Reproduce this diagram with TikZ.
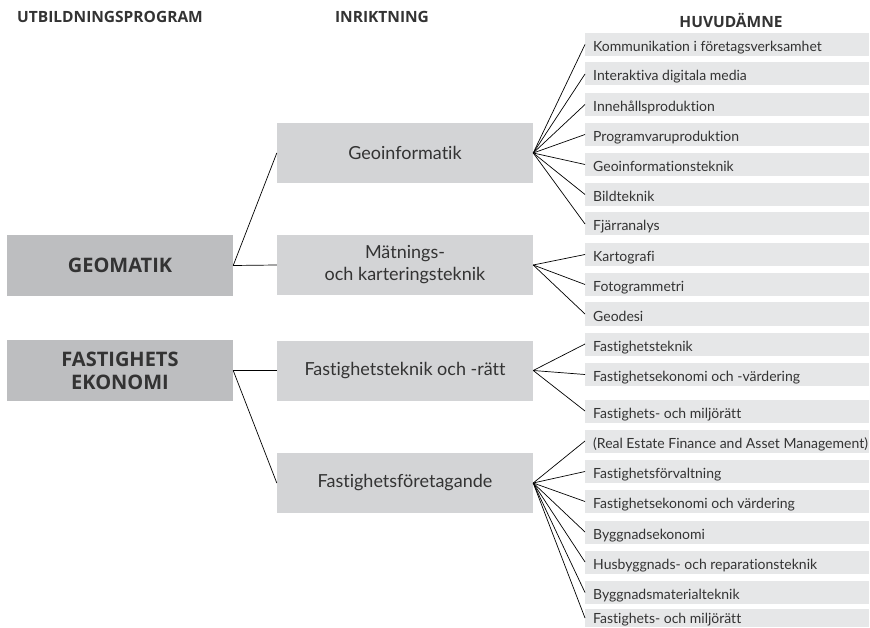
\documentclass[tikz,border=0pt]{standalone}
\usepackage{fontspec}
\setmainfont{Lato}[Ligatures=NoCommon]
\newfontfamily\headfont{Open Sans}
\definecolor{lboxc}{HTML}{BDBEC0}
\definecolor{mboxc}{HTML}{D3D4D6}
\definecolor{rboxc}{HTML}{E6E7E8}
\definecolor{txtc}{HTML}{333333}
\begin{document}
\begin{tikzpicture}[x=1pt,y=-1pt,
  head/.style={font=\headfont\bfseries\fontsize{15.5}{18}\selectfont, text=txtc, inner sep=0},
  leftbox/.style={fill=lboxc, draw=none, minimum width=226pt, minimum height=61pt, inner sep=0,
    font=\headfont\bfseries\fontsize{20}{23}\selectfont, text=txtc, align=center},
  midbox/.style={fill=mboxc, draw=none, minimum width=256pt, minimum height=60pt, inner sep=0,
    font=\fontsize{18}{22}\selectfont, text=txtc, align=center},
  rbox/.style={fill=rboxc, draw=none, anchor=west, minimum height=23pt, inner sep=0,
    text height=14pt, text depth=0pt, font=\fontsize{14}{16}\selectfont, text=txtc,
    execute at begin node={\hbox to 284pt\bgroup\hspace*{8pt}},
    execute at end node={\hfil\egroup}},
  conn/.style={draw=black, line width=0.7pt}]
\useasboundingbox (0,0) rectangle (870,628);

\node[head] (h1) at (110,17) {UTBILDNINGSPROGRAM};
\node[head] (h2) at (382,17) {INRIKTNING};
\node[head] (h3) at (731,20) {HUVUDÄMNE};

\node[leftbox] (l1) at (120,265.5) {GEOMATIK};
\node[leftbox] (l2) at (120,370.5) {FASTIGHETS\\EKONOMI};

\node[midbox] (m1) at (405,153) {Geoinformatik};
\node[midbox] (m2) at (405,265) {Mätnings-\\och karteringsteknik};
\node[midbox] (m3) at (405,370.5) {Fastighetsteknik och -rätt};
\node[midbox] (m4) at (405,483) {Fastighetsföretagande};

\node[rbox] (r1) at (585,44.5) {Kommunikation i företagsverksamhet};
\node[rbox] (r2) at (585,74) {Interaktiva digitala media};
\node[rbox] (r3) at (585,104.5) {Innehållsproduktion};
\node[rbox] (r4) at (585,134.5) {Programvaruproduktion};
\node[rbox] (r5) at (585,164.5) {Geoinformationsteknik};
\node[rbox] (r6) at (585,194.5) {Bildteknik};
\node[rbox] (r7) at (585,224) {Fjärranalys};
\node[rbox] (r8) at (585,254.5) {Kartografi};
\node[rbox] (r9) at (585,284.5) {Fotogrammetri};
\node[rbox] (r10) at (585,314) {Geodesi};
\node[rbox] (r11) at (585,344) {Fastighetsteknik};
\node[rbox] (r12) at (585,374.5) {Fastighetsekonomi och -värdering};
\node[rbox] (r13) at (585,411) {Fastighets- och miljörätt};
\node[rbox] (r14) at (585,441) {(Real Estate Finance and Asset Management)};
\node[rbox] (r15) at (585,471.5) {Fastighetsförvaltning};
\node[rbox] (r16) at (585,501.5) {Fastighetsekonomi och värdering};
\node[rbox] (r17) at (585,532) {Byggnadsekonomi};
\node[rbox] (r18) at (585,562) {Husbyggnads- och reparationsteknik};
\node[rbox] (r19) at (585,592.5) {Byggnadsmaterialteknik};
\node[rbox, minimum height=18pt, text height=11pt] (r20) at (585,618) {Fastighets- och miljörätt};

\draw[conn] (l1.east) -- (m1.west);
\draw[conn] (l1.east) -- (m2.west);
\draw[conn] (l2.east) -- (m3.west);
\draw[conn] (l2.east) -- (m4.west);

\foreach \r in {r1,r2,r3,r4,r5,r6,r7} \draw[conn] (m1.east) -- (\r.west);
\foreach \r in {r8,r9,r10} \draw[conn] (m2.east) -- (\r.west);
\foreach \r in {r11,r12,r13} \draw[conn] (m3.east) -- (\r.west);
\foreach \r in {r14,r15,r16,r17,r18,r19,r20} \draw[conn] (m4.east) -- (\r.west);
\end{tikzpicture}
\end{document}
